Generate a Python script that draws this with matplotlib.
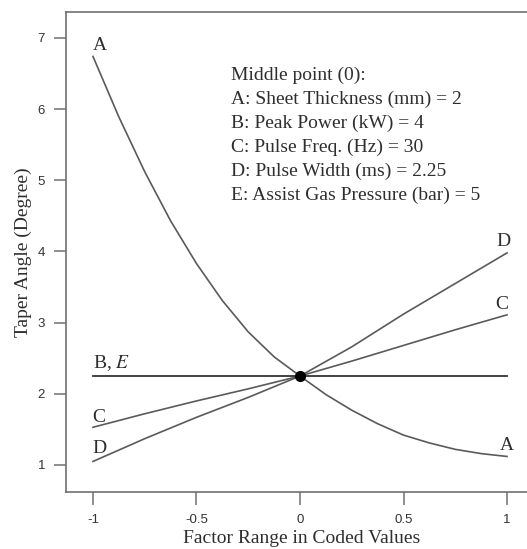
import matplotlib
matplotlib.use("Agg")
import matplotlib.pyplot as plt

# coded factor levels and taper angle
x_a = [-1, -0.875, -0.75, -0.625, -0.5, -0.375, -0.25, -0.125, 0,
       0.125, 0.25, 0.375, 0.5, 0.625, 0.75, 0.875, 1]
taper_a = [6.74, 5.89, 5.12, 4.43, 3.83, 3.31, 2.87, 2.52, 2.25,
           1.99, 1.77, 1.58, 1.42, 1.31, 1.22, 1.16, 1.12]
x_cd = [-1, -0.75, -0.5, -0.25, 0, 0.25, 0.5, 0.75, 1]
taper_c = [1.53, 1.72, 1.90, 2.07, 2.25, 2.46, 2.68, 2.90, 3.11]
taper_d = [1.05, 1.37, 1.67, 1.95, 2.25, 2.66, 3.12, 3.55, 3.98]
x_be = [-1, 1]
taper_be = [2.25, 2.25]
mid_x, mid_y = 0, 2.25

xticks = [-1, -0.5, 0, 0.5, 1]
xtick_labels = ["-1", "-0.5", "0", "0.5", "1"]
yticks = [1, 2, 3, 4, 5, 6, 7]

info_lines = [
    "Middle point (0):",
    "A: Sheet Thickness (mm) = 2",
    "B: Peak Power (kW) = 4",
    "C: Pulse Freq. (Hz) = 30",
    "D: Pulse Width (ms) = 2.25",
    "E: Assist Gas Pressure (bar) = 5",
]

plt.rcParams["mathtext.fontset"] = "stix"
serif = "Liberation Serif"
curve_col = "#5a5a5a"
spine_col = "#707070"
text_col = "#2e2e2e"

fig = plt.figure(figsize=(5.27, 5.49), dpi=100)
ax = fig.add_axes([66 / 527, 1 - 492 / 549, 471 / 527, 480 / 549])

ax.plot(x_a, taper_a, color=curve_col, lw=1.2)
ax.plot(x_cd, taper_c, color=curve_col, lw=1.2)
ax.plot(x_cd, taper_d, color=curve_col, lw=1.2)
ax.plot(x_be, taper_be, color="#333333", lw=1.3)
ax.plot([mid_x], [mid_y], "o", color="black", ms=7)

ax.set_xlim(-1.1304, 1.1449)
ax.set_ylim(0.6206, 7.365)
ax.set_xticks(xticks)
ax.set_xticklabels(xtick_labels)
ax.set_yticks(yticks)
ax.tick_params(direction="out", length=9, width=1.1, color=spine_col,
               labelsize=9.5, labelcolor="#333333")
ax.tick_params(axis="x", pad=7)
ax.tick_params(axis="y", pad=6)
for lbl in ax.get_xticklabels() + ax.get_yticklabels():
    lbl.set_fontfamily("Liberation Sans")
for s in ["left", "bottom", "top"]:
    ax.spines[s].set_color(spine_col)
    ax.spines[s].set_linewidth(1.2)
ax.spines["right"].set_visible(False)

ax.set_xlabel("Factor Range in Coded Values", fontfamily=serif, fontsize=14,
              color=text_col, labelpad=3)
ax.set_ylabel("Taper Angle (Degree)", fontfamily=serif, fontsize=14,
              color=text_col, labelpad=4)

lab = dict(fontfamily=serif, fontsize=14, color=text_col, va="center")
ax.text(-0.966, 6.894, "A", ha="center", **lab)
ax.text(0.998, 1.28, "A", ha="center", **lab)
ax.text(0.983, 4.14, "D", ha="center", **lab)
ax.text(0.973, 3.26, "C", ha="center", **lab)
ax.text(-0.998, 2.426, "B, $E$", ha="left", **lab)
ax.text(-0.97, 1.674, "C", ha="center", **lab)
ax.text(-0.97, 1.225, "D", ha="center", **lab)

for i, line in enumerate(info_lines):
    ax.text(-0.333, 6.47 - i * 0.335, line, ha="left", **lab)

fig.savefig("out.png", dpi=100)
